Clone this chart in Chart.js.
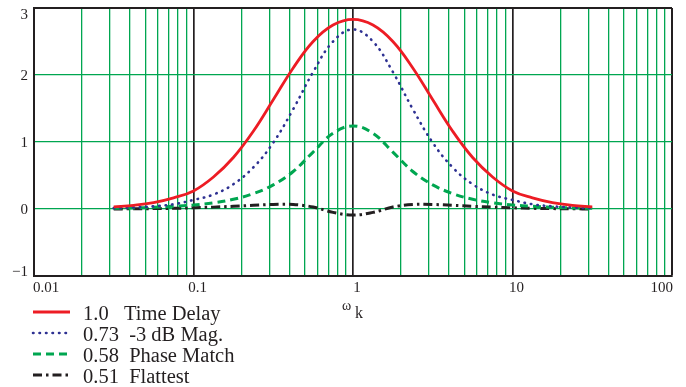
<!DOCTYPE html>
<html>
<head>
<meta charset="utf-8">
<script src="https://cdn.jsdelivr.net/npm/chart.js@4.4.0/dist/chart.umd.min.js"></script>
<style>
  html, body { margin: 0; padding: 0; background: #fff; }
  #wrap { width: 686px; height: 387px; }
</style>
</head>
<body>
<div id="wrap"><canvas id="chart" width="686" height="387"></canvas></div>
<script>
// normalised frequency points
const omega = [0.0316, 0.0422, 0.0562, 0.075, 0.1, 0.1334, 0.1778, 0.2371, 0.3162, 0.4217, 0.5623, 0.7499, 1,
               1.334, 1.778, 2.371, 3.162, 4.217, 5.623, 7.499, 10, 13.34, 17.78, 23.71, 31.62];

// curves
const timeDelay = [0.031, 0.055, 0.096, 0.167, 0.27, 0.478, 0.768, 1.16, 1.63, 2.105, 2.50, 2.745, 2.83,
                   2.745, 2.50, 2.105, 1.63, 1.16, 0.768, 0.478, 0.27, 0.167, 0.096, 0.055, 0.031];
const magMinus3dB = [0.013, 0.023, 0.040, 0.071, 0.135, 0.216, 0.37, 0.62, 0.99, 1.49, 2.045, 2.50, 2.68,
                     2.50, 2.045, 1.49, 0.99, 0.62, 0.37, 0.216, 0.135, 0.071, 0.040, 0.023, 0.013];
const phaseMatch = [0.01, 0.016, 0.026, 0.04, 0.06, 0.092, 0.145, 0.23, 0.36, 0.56, 0.85, 1.13, 1.24,
                    1.13, 0.85, 0.56, 0.36, 0.23, 0.145, 0.092, 0.06, 0.04, 0.026, 0.016, 0.01];
const flattest = [0.0, 0.003, 0.006, 0.01, 0.018, 0.028, 0.04, 0.055, 0.068, 0.068, 0.03, -0.05, -0.09,
                  -0.05, 0.03, 0.068, 0.068, 0.055, 0.04, 0.028, 0.018, 0.01, 0.006, 0.003, 0.0];

const legendValues = ['1.0', '0.73', '0.58', '0.51'];
const legendNames = ['Time Delay', '-3 dB Mag.', 'Phase Match', 'Flattest'];
const legendGaps = ['   ', '  ', '  ', '  '];

const xTickValues = [0.01, 0.1, 1, 10, 100];
const xTickLabels = ['0.01', '0.1', '1', '10', '100'];
const yTickValues = [3, 2, 1, 0, -1];
const yTickLabels = ['3', '2', '1', '0', '\u22121'];
const yMin = -1;
const yMax = 3;

const GREEN = '#00a650';
const DARK = '#231f20';
const SERIF = '"Liberation Serif", "Times New Roman", serif';

function points(ys) {
    return omega.map((w, i) => ({ x: w, y: ys[i] }));
}

function isDecade(v) {
    return xTickValues.some(d => Math.abs(v - d) < d * 1e-6);
}

// draws tick labels, axis title and the legend the way the original does
const decorations = {
    id: 'decorations',
    afterDraw(chart) {
        const ctx = chart.ctx;
        const area = chart.chartArea;
        const xs = chart.scales.x;
        const ys = chart.scales.y;
        ctx.save();
        ctx.fillStyle = DARK;
        ctx.font = '15px ' + SERIF;
        ctx.textBaseline = 'alphabetic';
        ctx.textAlign = 'left';
        xTickValues.forEach((v, i) => {
            const w = ctx.measureText(xTickLabels[i]).width;
            let left = xs.getPixelForValue(v) + 4 - w / 2;
            if (left < area.left - 1) left = area.left - 1;
            if (left + w > area.right + 1) left = area.right + 1 - w;
            ctx.fillText(xTickLabels[i], left, 292);
        });

        // y labels sit inside the frame at the top and bottom
        ctx.textAlign = 'right';
        yTickValues.forEach((v, i) => {
            let base = ys.getPixelForValue(v) + 5;
            if (base - 10 < area.top + 1) base = area.top + 11;
            if (base > area.bottom) base = area.bottom;
            ctx.fillText(yTickLabels[i], 28, base);
        });
        ctx.textAlign = 'left';

        // axis title: omega with subscript k
        ctx.font = '14px ' + SERIF;
        ctx.fillText('ω', 342, 310);
        ctx.font = '16px ' + SERIF;
        ctx.fillText('k', 355, 318);

        // legend
        const rowY = [312, 333, 354, 375];
        chart.data.datasets.forEach((ds, i) => {
            const y = rowY[i];
            ctx.save();
            ctx.strokeStyle = ds.borderColor;
            ctx.lineWidth = ds.borderWidth;
            ctx.lineCap = ds.borderCapStyle || 'butt';
            ctx.setLineDash(ds.borderDash || []);
            ctx.beginPath();
            ctx.moveTo(33, y);
            ctx.lineTo(70, y);
            ctx.stroke();
            ctx.restore();
            ctx.font = '20.5px ' + SERIF;
            ctx.fillStyle = DARK;
            ctx.fillText(legendValues[i] + legendGaps[i] + legendNames[i], 83, y + 7.5);
        });
        ctx.restore();
    }
};

const chart = new Chart(document.getElementById('chart'), {
    type: 'line',
    data: {
        datasets: [
            {
                label: legendValues[0] + ' ' + legendNames[0],
                data: points(timeDelay),
                borderColor: '#ed1c24',
                borderWidth: 2.8,
                borderDash: []
            },
            {
                label: legendValues[1] + ' ' + legendNames[1],
                data: points(magMinus3dB),
                borderColor: '#2e3192',
                borderWidth: 2.6,
                borderCapStyle: 'round',
                borderDash: [0.5, 6]
            },
            {
                label: legendValues[2] + ' ' + legendNames[2],
                data: points(phaseMatch),
                borderColor: GREEN,
                borderWidth: 3,
                borderDash: [8, 5]
            },
            {
                label: legendValues[3] + ' ' + legendNames[3],
                data: points(flattest),
                borderColor: DARK,
                borderWidth: 3,
                borderDash: [9, 4, 2.5, 4]
            }
        ]
    },
    options: {
        responsive: false,
        animation: false,
        devicePixelRatio: 1,
        layout: { padding: { top: 8, right: 14, left: 34, bottom: 0 } },
        elements: {
            point: { radius: 0 },
            line: { tension: 0.4, fill: false }
        },
        plugins: {
            legend: { display: false },
            tooltip: { enabled: false }
        },
        scales: {
            x: {
                type: 'logarithmic',
                min: 0.01,
                max: 100,
                afterBuildTicks(scale) {
                    const ticks = [];
                    for (let e = -2; e <= 1; e++) {
                        for (let m = 1; m <= 9; m++) {
                            ticks.push({ value: +(m * Math.pow(10, e)).toPrecision(3) });
                        }
                    }
                    ticks.push({ value: 100 });
                    scale.ticks = ticks;
                },
                afterFit(scale) { scale.height = 111; },
                ticks: { display: false },
                grid: {
                    drawTicks: false,
                    color: c => isDecade(c.tick.value) ? DARK : GREEN,
                    lineWidth: c => c.tick.value === 100 ? 2 : (isDecade(c.tick.value) ? 1.7 : 1.3)
                },
                border: { color: DARK, width: 2 }
            },
            y: {
                min: yMin,
                max: yMax,
                ticks: { stepSize: 1, display: false },
                afterFit(scale) { scale.width = 0; },
                grid: {
                    drawTicks: false,
                    color: c => (c.tick.value === yMax || c.tick.value === yMin) ? DARK : GREEN,
                    lineWidth: c => (c.tick.value === yMax || c.tick.value === yMin) ? 2 : 1.3
                },
                border: { color: DARK, width: 2 }
            }
        }
    },
    plugins: [decorations]
});
</script>
</body>
</html>
